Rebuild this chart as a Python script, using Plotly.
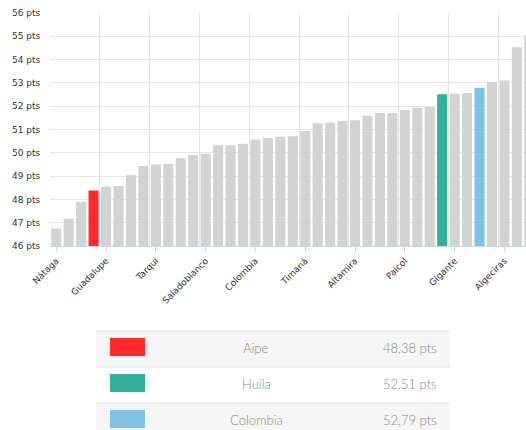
import plotly.graph_objects as go

# ---- data ----
names = ["Nátaga", "Elías", "Oporapa", "Aipe", "Guadalupe", "Íquira", "Palestina",
         "Santa María", "Tarqui", "Hobo", "Tello", "Teruel", "Saladoblanco",
         "Isnos", "La Argentina", "Acevedo", "Colombia", "Suaza", "Agrado",
         "Baraya", "Timaná", "Tesalia", "Villavieja", "Yaguará", "Altamira",
         "Pital", "San Agustín", "La Plata", "Paicol", "Palermo", "Rivera",
         "Huila", "Gigante", "Campoalegre", "Colombia (nacional)", "Garzón",
         "Algeciras", "Pitalito", "Neiva"]
values = [46.75, 47.17, 47.90, 48.38, 48.54, 48.57, 49.06, 49.43, 49.50, 49.53,
          49.77, 49.91, 49.96, 50.32, 50.32, 50.39, 50.57, 50.64, 50.69, 50.71,
          50.94, 51.27, 51.29, 51.36, 51.40, 51.59, 51.71, 51.71, 51.85, 51.93,
          51.97, 52.51, 52.53, 52.57, 52.79, 53.04, 53.10, 54.53, 55.07]
label_every = 4

highlight = {"Aipe": "#ff2b2b", "Huila": "#33b09a", "Colombia (nacional)": "#80c2e4"}
table_keys = ["Aipe", "Huila", "Colombia (nacional)"]
table_labels = ["Aipe", "Huila", "Colombia"]
base_color = "#d3d3d3"

# ---- figure ----
W, H = 526, 430
ML, MR, MT, MB = 50, 0, 13, 184
PW, PH = W - ML - MR, H - MT - MB

def px_x(x):
    return (x - ML) / PW

def px_y(y):
    return (H - MB - y) / PH

xs = list(range(len(names)))
colors = [highlight.get(n, base_color) for n in names]

fig = go.Figure(go.Bar(x=xs, y=values, marker=dict(color=colors, line=dict(width=0)),
                       hovertext=names, hoverinfo="text+y"))

tickvals = xs[::label_every]
ticktext = [names[i] for i in tickvals]
grid_vals = [i - 0.5 for i in tickvals]

fig.update_layout(
    width=W, height=H,
    margin=dict(l=ML, r=MR, t=MT, b=MB, autoexpand=False),
    paper_bgcolor="white", plot_bgcolor="white",
    showlegend=False, bargap=0.19,
    font=dict(family="DejaVu Sans", size=9, color="#333"),
    xaxis=dict(range=[-0.5, 37.73], tickmode="array", tickvals=tickvals,
               ticktext=ticktext, tickangle=-45, showgrid=False, automargin=False,
               ticks="outside", ticklen=5, tickcolor="#ccd6eb",
               showline=True, linecolor="#ccd6eb", zeroline=False,
               minor=dict(tickmode="array", tickvals=grid_vals, showgrid=True,
                          gridcolor="#e6e6e6", ticks="")),
    yaxis=dict(range=[46, 56], dtick=1, ticksuffix=" pts", showgrid=True,
               automargin=False, ticks="outside", ticklen=7,
               tickcolor="rgba(0,0,0,0)",
               gridcolor="#e6e6e6", zeroline=False, showline=False),
)

# ---- table below chart ----
row_tops = [331, 367, 403]
row_h = 36
row_bg = ["#f6f6f6", "#ffffff", "#f6f6f6"]
tx0, tx1 = 96, 450
shapes = []
annotations = []
for i, key in enumerate(table_keys):
    top = row_tops[i]
    shapes.append(dict(type="rect", xref="paper", yref="paper",
                       x0=px_x(tx0), x1=px_x(tx1), y0=px_y(top + row_h), y1=px_y(top),
                       fillcolor=row_bg[i], line=dict(width=0), layer="below"))
    shapes.append(dict(type="line", xref="paper", yref="paper",
                       x0=px_x(tx0), x1=px_x(tx1), y0=px_y(top), y1=px_y(top),
                       line=dict(color="#e2e2e2", width=1)))
    shapes.append(dict(type="rect", xref="paper", yref="paper",
                       x0=px_x(110), x1=px_x(145), y0=px_y(top + 25), y1=px_y(top + 7),
                       fillcolor=highlight[key], line=dict(width=0)))
    v = values[names.index(key)]
    annotations.append(dict(xref="paper", yref="paper", x=px_x(256), y=px_y(top + 17),
                            text=table_labels[i], showarrow=False, xanchor="center",
                            yanchor="middle",
                            font=dict(family="Lato", size=13, color="#8a8a8a", weight=300)))
    annotations.append(dict(xref="paper", yref="paper", x=px_x(439), y=px_y(top + 17),
                            text=f"{v:.2f}".replace(".", ",") + " pts", showarrow=False,
                            xanchor="right", yanchor="middle",
                            font=dict(family="Lato", size=13, color="#8a8a8a", weight=300)))

fig.update_layout(shapes=shapes, annotations=annotations)
fig.write_html("out.html", config={"displayModeBar": False},
               post_script="document.body.style.margin='0';document.body.style.overflow='hidden';")
